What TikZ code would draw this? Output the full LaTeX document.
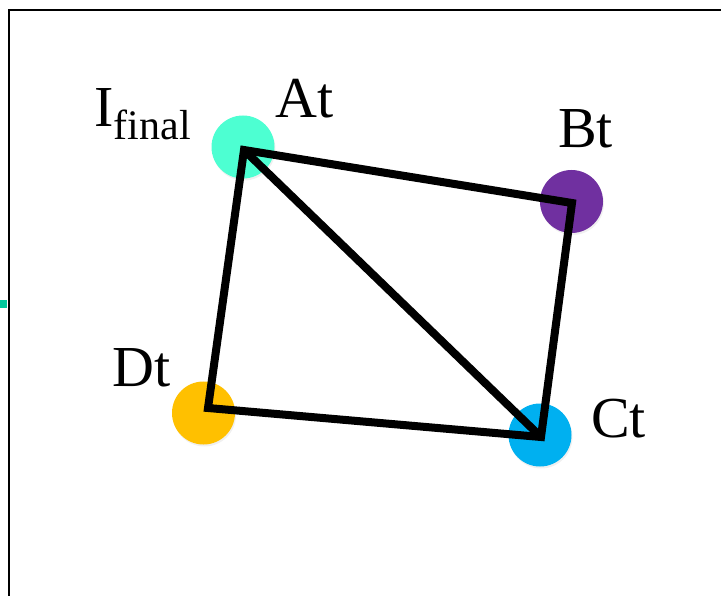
\documentclass[tikz,border=0pt]{standalone}
\usepackage{fontspec}
\setmainfont{Liberation Serif}
\usetikzlibrary{shadows}
\definecolor{aqua}{HTML}{4DFFD2}
\definecolor{plum}{HTML}{7030A0}
\definecolor{sky}{HTML}{00B0F0}
\definecolor{gold}{HTML}{FFC000}
\definecolor{mint}{HTML}{00C89C}

\begin{document}
\begin{tikzpicture}[x=1pt,y=-1pt,
  dot/.style={circle,inner sep=0pt,minimum size=63pt,draw=none,
    drop shadow={opacity=0.12,shadow xshift=1pt,shadow yshift=-2pt}},
  lbl/.style={anchor=base west,inner sep=0pt,font=\fontsize{58}{60}\selectfont},
  side/.style={line width=8pt,line join=miter}]
\useasboundingbox (0,0) rectangle (721,596);
% frame
\coordinate (fb) at (9,597);
\coordinate (fr) at (722,10);
\draw[line width=2pt] (fb) |- (fr);
\fill[mint] (0,300) rectangle (7,308);
% points
\node[dot,fill=aqua] at(243,147)(A){};
\node[dot,fill=plum] at(571.5,201.5)(B){};
\node[dot,fill=sky] at(540,435)(C){};
\node[dot,fill=gold] at(203.5,413)(D){};
% labels
\node[lbl] at(94,127)(lI){I};
\node[lbl,font=\fontsize{42}{44}\selectfont] at(lI.base east)[yshift=-13pt](lf){final};
\node[lbl] at(275,118)(lA){At};
\node[lbl] at(558,148)(lB){Bt};
\node[lbl] at(112,387)(lD){Dt};
\node[lbl] at(591,437)(lC){Ct};
% square and diagonal
\coordinate (a) at (244,150);
\coordinate (b) at (572,203);
\coordinate (c) at (541,437);
\coordinate (d) at (208,408);
\draw[side] (a) -- (b) -- (c) -- (d) -- cycle;
\draw[side] (a) -- (c);
\end{tikzpicture}
\end{document}
